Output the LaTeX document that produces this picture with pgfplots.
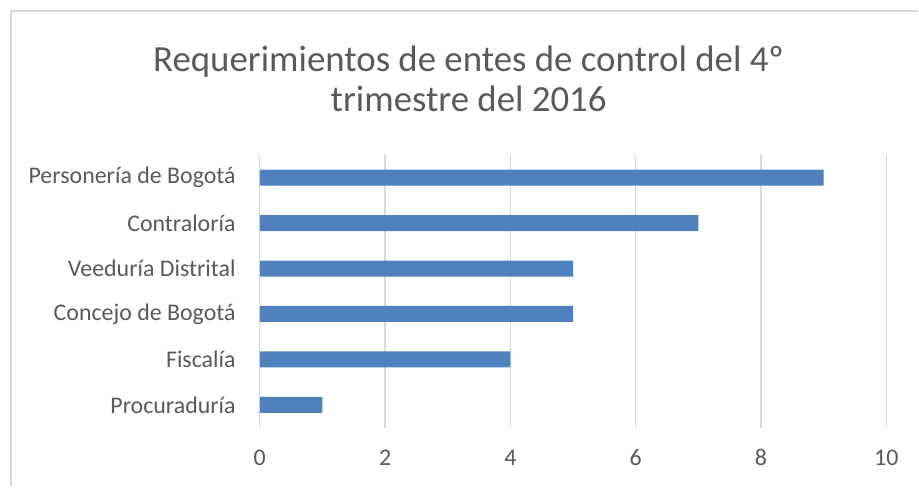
\documentclass[border=0pt]{standalone}
\usepackage{pgfplots}
\pgfplotsset{compat=1.18}
\usepackage{fontspec}
\setmainfont{Carlito}
\definecolor{txtgray}{HTML}{595959}
\definecolor{gridgray}{HTML}{D9D9D9}
\definecolor{barblue}{HTML}{4F81BD}

\begin{document}
\begin{tikzpicture}[x=1bp,y=1bp]
% fixed canvas, same size as the reference
\path (0,0) rectangle (919,487);
\draw[gridgray,line width=1.5bp] (11,0) -- (11,476) -- (919,476);
\node[txtgray,align=center,font=\fontsize{37}{40}\selectfont] at (469,408)
  {Requerimientos de entes de control del 4º\\trimestre del 2016};
\begin{axis}[
    at={(260bp,59bp)},
    anchor=south west,
    scale only axis,
    width=627bp,
    height=273bp,
    xbar,
    bar width=16bp,
    xmin=0, xmax=10,
    ymin=-0.5, ymax=5.5,
    xtick={0,2,...,10},
    ytick={0,...,5},
    yticklabels={Procuraduría,Fiscalía,Concejo de Bogotá,Veeduría Distrital,Contraloría,Personería de Bogotá},
    axis line style={draw=none},
    major tick length=0pt,
    xmajorgrids,
    major grid style={gridgray,line width=1.2bp},
    ticklabel style={txtgray,font=\fontsize{24}{26}\selectfont},
    yticklabel style={inner sep=0pt,xshift=-24bp},
    xticklabel style={inner sep=0pt,anchor=base,yshift=-37.5bp},
    /pgf/number format/assume math mode=true,
    ]
\addplot[fill=barblue,draw=none] coordinates {(1,0) (4,1) (5,2) (5,3) (7,4) (9,5)};
\end{axis}
\end{tikzpicture}
\end{document}
